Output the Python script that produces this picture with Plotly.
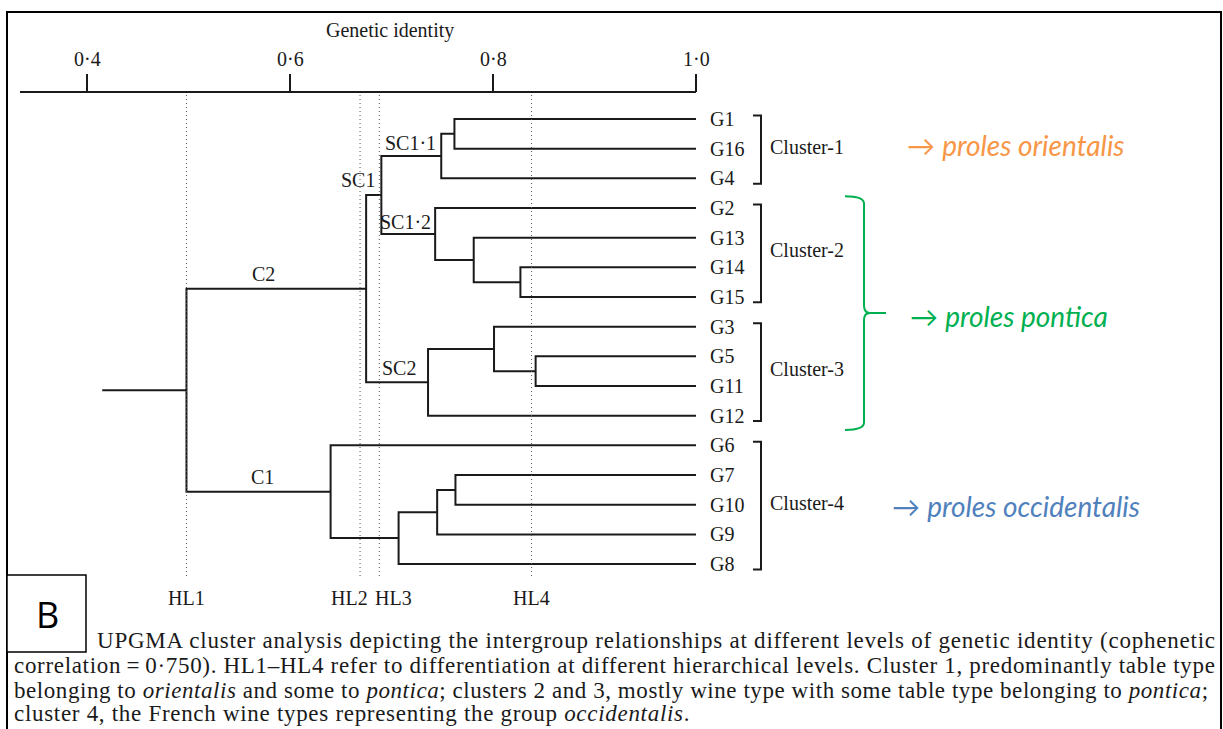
import plotly.graph_objects as go

W, H = 1223, 729

# ---- data -------------------------------------------------------------
leaves = ["G1", "G16", "G4", "G2", "G13", "G14", "G15", "G3",
          "G5", "G11", "G12", "G6", "G7", "G10", "G9", "G8"]

# UPGMA merges: node name, left child, right child, genetic identity
merge_nodes = ["n1", "SC1·1", "n2", "n3", "SC1·2", "SC1", "n6", "n7",
               "SC2", "C2", "n10", "n11", "n12", "C1", "root"]
merge_left = ["G1", "n1", "G14", "G13", "G2", "SC1·1", "G5", "G3",
              "n7", "SC1", "G7", "n10", "n11", "G6", "C2"]
merge_right = ["G16", "G4", "G15", "n2", "n3", "SC1·2", "G11", "n6",
               "G12", "SC2", "G10", "G9", "G8", "n12", "C1"]
merge_identity = [0.762, 0.749, 0.827, 0.781, 0.743, 0.690, 0.842, 0.801,
                  0.736, 0.675, 0.763, 0.745, 0.707, 0.640, 0.498]
root_stub = 0.415

hl_labels = ["HL1", "HL2", "HL3", "HL4"]
hl_identity = [0.498, 0.669, 0.688, 0.838]

tick_values = [0.4, 0.6, 0.8, 1.0]
tick_labels = ["0·4", "0·6", "0·8", "1·0"]

cluster_names = ["Cluster-1", "Cluster-2", "Cluster-3", "Cluster-4"]
cluster_first = ["G1", "G2", "G3", "G6"]
cluster_last = ["G4", "G15", "G12", "G8"]

proles_names = ["proles orientalis", "proles pontica", "proles occidentalis"]
proles_clusters = [["Cluster-1"], ["Cluster-2", "Cluster-3"], ["Cluster-4"]]
proles_colors = ["#F79646", "#00B050", "#4F81BD"]

caption_lines = [
    "UPGMA cluster analysis depicting the intergroup relationships at different levels of genetic identity (cophenetic",
    "correlation\u2009=\u20090·750). HL1–HL4 refer to differentiation at different hierarchical levels. Cluster 1, predominantly table type",
    "belonging to <i>orientalis</i> and some to <i>pontica</i>; clusters 2 and 3, mostly wine type with some table type belonging to <i>pontica</i>;",
    "cluster 4, the French wine types representing the group <i>occidentalis</i>.",
]

# ---- layout geometry ----------------------------------------------------
PX_PER_UNIT = 1015.0           # pixels per unit of genetic identity
X_AT_04 = 87.0                 # pixel column of identity 0.4
ROW = 29.67                    # pixels between leaves
FIRST_ROW = 119.0              # pixel row of the first leaf
X0 = 0.4 - X_AT_04 / PX_PER_UNIT
X1 = X0 + W / PX_PER_UNIT
Y_TOP = -FIRST_ROW / ROW
Y_BOT = (H - FIRST_ROW) / ROW


def py(p):
    """pixel row -> paper y"""
    return 1 - p / H


def px(p):
    """pixel column -> paper x"""
    return p / W


def dx(p):
    """pixel offset -> identity offset"""
    return p / PX_PER_UNIT


SERIF = "Liberation Serif"
SANS = "Lato"
INK = "#1a1a1a"
LBL = 20

# ---- dendrogram geometry ---------------------------------------------
pos = {name: (1.0, i) for i, name in enumerate(leaves)}
xs, ys = [], []
for node, l, r, v in zip(merge_nodes, merge_left, merge_right, merge_identity):
    xl, yl = pos[l]
    xr, yr = pos[r]
    y = (yl + yr) / 2
    pos[node] = (v, y)
    xs += [xl, v, v, xr, None]
    ys += [yl, yl, yr, yr, None]
rx, ry = pos["root"]
xs += [root_stub, rx, None]
ys += [ry, ry, None]

fig = go.Figure()
fig.add_trace(go.Scatter(x=xs, y=ys, mode="lines",
                         line=dict(color=INK, width=2), hoverinfo="skip"))

# cluster brackets
bx = 1.0 + dx(65)
btick = dx(8)
cluster_span = {}
bxs, bys = [], []
for name, a, b in zip(cluster_names, cluster_first, cluster_last):
    yt = leaves.index(a) - 0.12
    yb = leaves.index(b) + 0.18
    cluster_span[name] = (yt, yb)
    bxs += [bx - btick, bx, bx, bx - btick, None]
    bys += [yt, yt, yb, yb, None]
fig.add_trace(go.Scatter(x=bxs, y=bys, mode="lines",
                         line=dict(color=INK, width=2), hoverinfo="skip"))

annotations = []
shapes = []

# leaf labels
for i, name in enumerate(leaves):
    annotations.append(dict(x=1.0, y=i, text=name, xanchor="left", yanchor="middle",
                            xshift=12, showarrow=False,
                            font=dict(family=SERIF, size=LBL, color=INK)))

# cluster labels
for name in cluster_names:
    yt, yb = cluster_span[name]
    annotations.append(dict(x=bx, y=(yt + yb) / 2, text=name, xanchor="left",
                            yanchor="middle", xshift=7, yshift=3, showarrow=False,
                            font=dict(family=SERIF, size=LBL, color=INK)))

# node labels
parent = {}
for node, l, r in zip(merge_nodes, merge_left, merge_right):
    parent[l] = node
    parent[r] = node
for node, xsft, ysft in [("SC1·1", -3, 13), ("SC1", -4, 15),
                         ("SC1·2", -2, 12), ("SC2", -10, 14)]:
    x, y = pos[node]
    annotations.append(dict(x=x, y=y, text=node, xanchor="right", yanchor="middle",
                            xshift=xsft, yshift=ysft, showarrow=False,
                            font=dict(family=SERIF, size=LBL, color=INK)))
for node, xsft in [("C2", -13), ("C1", 4)]:
    x, y = pos[node]
    xp = pos[parent[node]][0]
    annotations.append(dict(x=(x + xp) / 2, y=y, text=node, xanchor="center",
                            yanchor="middle", xshift=xsft, yshift=15, showarrow=False,
                            font=dict(family=SERIF, size=LBL, color=INK)))

# hierarchical level guides; HL2/HL3 labels are nudged apart
hl_nudge = [0, -11, 14, 0]
for lab, v, nudge in zip(hl_labels, hl_identity, hl_nudge):
    shapes.append(dict(type="line", xref="x", yref="paper", x0=v, x1=v,
                       y0=py(95), y1=py(578),
                       line=dict(color="#555555", width=1, dash="1px,3px")))
    annotations.append(dict(x=v, y=py(598), xref="x", yref="paper", text=lab,
                            xanchor="center", yanchor="middle", xshift=nudge,
                            showarrow=False,
                            font=dict(family=SERIF, size=LBL, color=INK)))

# top identity axis
shapes.append(dict(type="line", xref="x", yref="paper", x0=0.4 - dx(67), x1=1.0,
                   y0=py(92), y1=py(92), line=dict(color=INK, width=2)))
for v, lab in zip(tick_values, tick_labels):
    shapes.append(dict(type="line", xref="x", yref="paper", x0=v, x1=v,
                       y0=py(92), y1=py(74), line=dict(color=INK, width=2)))
    annotations.append(dict(x=v, y=py(59), xref="x", yref="paper", text=lab,
                            xanchor="center", yanchor="middle", showarrow=False,
                            font=dict(family=SERIF, size=LBL, color=INK)))
annotations.append(dict(x=(tick_values[0] + tick_values[-1]) / 2, y=py(30), xref="x",
                        yref="paper", text="Genetic identity", xanchor="center",
                        yanchor="middle", xshift=-2, showarrow=False,
                        font=dict(family=SERIF, size=LBL, color=INK)))

# green brace over clusters 2 and 3
g_top = cluster_span["Cluster-2"][0] - 0.28
g_bot = cluster_span["Cluster-3"][1] + 0.3
g_mid = (g_top + g_bot) / 2
xv = 1.0 + dx(168)
xc = 1.0 + dx(149)
xt = 1.0 + dx(190)
r = 0.25
s = dx(6)
brace = (f"M {xc},{g_top} Q {xv},{g_top} {xv},{g_top + r} "
         f"L {xv},{g_mid - r} Q {xv},{g_mid} {xv + s},{g_mid} L {xt},{g_mid} "
         f"M {xv + s},{g_mid} Q {xv},{g_mid} {xv},{g_mid + r} "
         f"L {xv},{g_bot - r} Q {xv},{g_bot} {xc},{g_bot}")
shapes.append(dict(type="path", xref="x", yref="y", path=brace,
                   line=dict(color="#00B050", width=2)))

# proles annotations
proles_x = [905, 908, 890]
proles_dy = [5, -3, 0]
for name, cl, col, xp, dy in zip(proles_names, proles_clusters, proles_colors,
                                 proles_x, proles_dy):
    if len(cl) > 1:
        yc = g_mid
    else:
        yt, yb = cluster_span[cl[0]]
        yc = (yt + yb) / 2
    annotations.append(dict(x=px(xp), y=yc, xref="paper", yref="y",
                            text=f"\u2192 <i>{name}</i>", xanchor="left",
                            yanchor="middle", yshift=dy, showarrow=False,
                            font=dict(family=SANS, size=28, color=col)))

# panel frame and "B" tag
shapes.append(dict(type="rect", xref="paper", yref="paper", x0=px(7), x1=px(1221),
                   y0=py(740), y1=py(12), line=dict(color="#000000", width=2)))
shapes.append(dict(type="rect", xref="paper", yref="paper", x0=px(7), x1=px(86),
                   y0=py(652), y1=py(575), line=dict(color="#000000", width=1.5),
                   fillcolor="white"))
annotations.append(dict(x=px(47), y=py(614), xref="paper", yref="paper", text="B",
                        xanchor="center", yanchor="middle", showarrow=False,
                        font=dict(family="Open Sans", size=36, color="#000000")))

# caption, letter-spaced per line so the block fills the panel width
cap_x = [95, 12, 12, 12]
cap_y = [640, 665, 690, 713]
cap_spacing = [0.78, 0.68, 0.56, 0.70]
for line, cx, cy, ls in zip(caption_lines, cap_x, cap_y, cap_spacing):
    annotations.append(dict(x=px(cx), y=py(cy), xref="paper", yref="paper",
                            text=f'<span style="letter-spacing:{ls}px">{line}</span>',
                            xanchor="left", yanchor="middle", showarrow=False,
                            font=dict(family=SERIF, size=23, color=INK)))

fig.update_layout(
    width=W, height=H,
    margin=dict(l=0, r=0, t=0, b=0),
    paper_bgcolor="white", plot_bgcolor="white",
    showlegend=False,
    xaxis=dict(range=[X0, X1], visible=False, fixedrange=True),
    yaxis=dict(range=[Y_BOT, Y_TOP], visible=False, fixedrange=True),
    shapes=shapes,
    annotations=annotations,
)

fig.write_html("out.html")
